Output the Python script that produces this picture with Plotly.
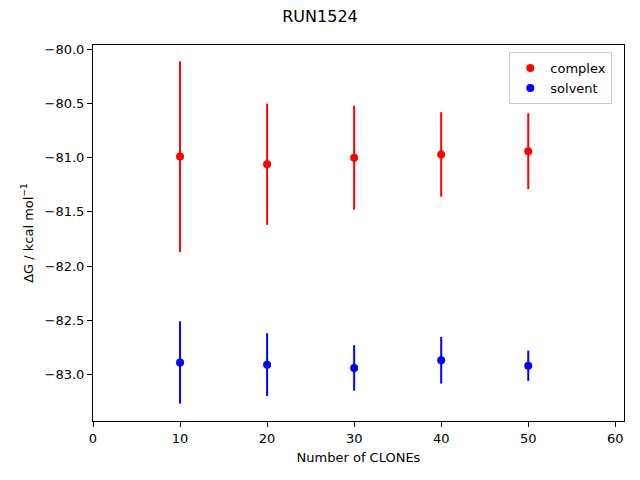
import plotly.graph_objects as go

clones = [10, 20, 30, 40, 50]
complex_dg = [-80.99, -81.06, -81.00, -80.97, -80.94]
complex_err = [0.88, 0.56, 0.48, 0.39, 0.35]
solvent_dg = [-82.89, -82.91, -82.94, -82.87, -82.92]
solvent_err = [0.38, 0.29, 0.21, 0.215, 0.14]
x_ticks = [0, 10, 20, 30, 40, 50, 60]
y_ticks = [-80.0, -80.5, -81.0, -81.5, -82.0, -82.5, -83.0]

fig = go.Figure()
for name, vals, errs, col in [("complex", complex_dg, complex_err, "#ff0000"),
                              ("solvent", solvent_dg, solvent_err, "#0000ff")]:
    fig.add_trace(go.Scatter(
        x=clones, y=vals, mode="markers", name=name,
        marker=dict(color=col, size=8),
        error_y=dict(type="data", array=errs, visible=True, color=col, thickness=2, width=0),
    ))

font = "DejaVu Sans, sans-serif"
fig.update_layout(
    width=640, height=480,
    paper_bgcolor="white", plot_bgcolor="white",
    margin=dict(l=93, r=16, t=45, b=59),
    font=dict(family=font, size=13, color="black"),
    title=dict(text="RUN1524", x=0.5, xanchor="center", y=1 - 16 / 480, yanchor="middle",
               font=dict(size=16, family=font)),
    showlegend=True,
    legend=dict(x=0.978, y=0.981, xanchor="right", yanchor="top",
                bordercolor="#cccccc", borderwidth=1, bgcolor="rgba(255,255,255,0.8)",
                font=dict(size=13, family=font)),
)
fig.update_xaxes(
    range=[0, 61], tickvals=x_ticks, ticktext=[str(v) for v in x_ticks],
    showgrid=False, zeroline=False, showline=True, linecolor="black", linewidth=1, mirror=True,
    ticks="outside", ticklen=5, tickcolor="black",
    title=dict(text="Number of CLONEs", font=dict(size=13), standoff=8),
)
fig.update_yaxes(
    range=[-83.43, -79.96], tickvals=y_ticks,
    ticktext=[("\u2212" + f"{abs(v):.1f}") for v in y_ticks],
    showgrid=False, zeroline=False, showline=True, linecolor="black", linewidth=1, mirror=True,
    ticks="outside", ticklen=5, tickcolor="black",
    title=dict(text="\u0394G / kcal mol<sup>\u22121</sup>", font=dict(size=13), standoff=8),
)
fig.write_html("out.html", config={"displayModeBar": False},
               post_script="document.body.style.margin='0';")
